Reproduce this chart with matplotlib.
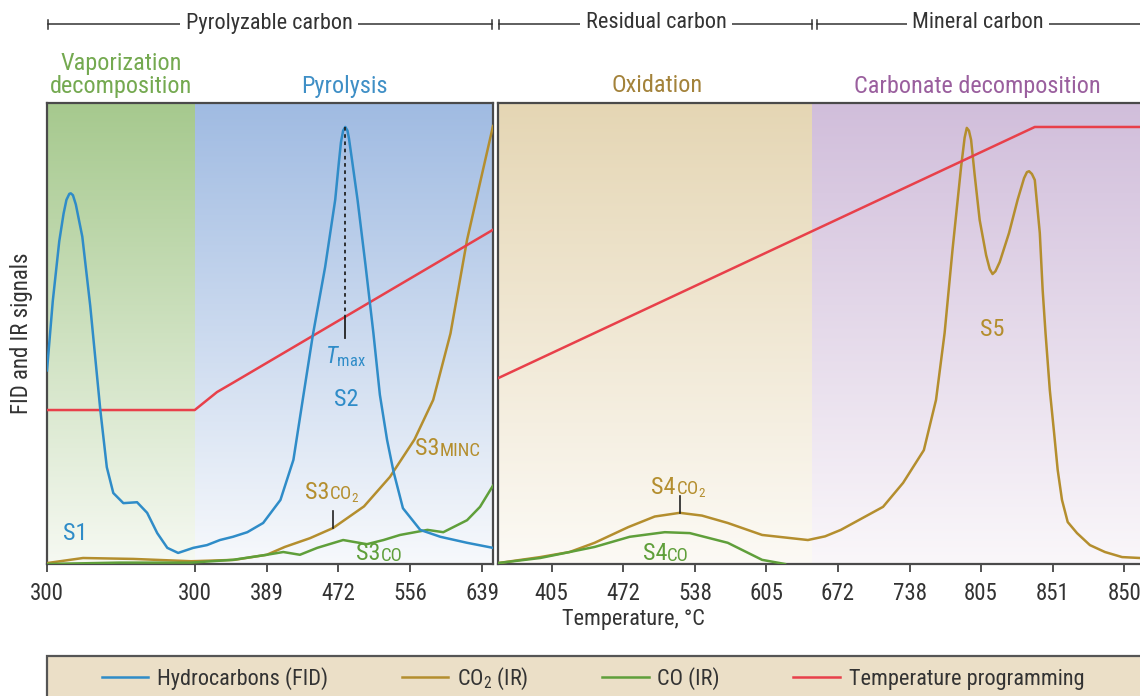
import numpy as np
import matplotlib
matplotlib.use('Agg')
import matplotlib.pyplot as plt
from matplotlib import font_manager
from matplotlib.patches import Rectangle
from matplotlib.lines import Line2D

# Font: look for a narrow / condensed sans
fonts = font_manager.fontManager.ttflist
names = {f.name for f in fonts}
family, stretch = None, 'normal'
for c in ['Liberation Sans Narrow', 'Roboto Condensed', 'Open Sans Condensed',
          'Noto Sans Condensed', 'DejaVu Sans Condensed', 'Arial Narrow']:
    if c in names:
        family = c
        break
if family is None:
    for c in ['Roboto', 'Noto Sans', 'Open Sans', 'DejaVu Sans']:
        if any(f.name == c and f.stretch in ('condensed', 'semi-condensed')
               and f.style == 'normal' for f in fonts):
            family, stretch = c, 'condensed'
            break
if family is None:
    family = 'DejaVu Sans'
plt.rcParams['font.family'] = [family, 'DejaVu Sans']
plt.rcParams['font.stretch'] = stretch
plt.rcParams['mathtext.fontset'] = 'custom'
plt.rcParams['mathtext.rm'] = family
plt.rcParams['mathtext.it'] = family + ':italic'

# Colours
c_fid = '#2f8cc8'
c_co2 = '#b48e2e'
c_co = '#5f9f3a'
c_temp = '#e8404a'
c_dark = '#333333'

# ---- Data (x = run time, y = signal in % of full scale) ----
# left panel: pyrolysis
left_ticks = [0, 2.05, 3.05, 4.04, 5.04, 6.04]
left_ticklabels = ['300', '300', '389', '472', '556', '639']
left_end = 6.19
vapor_end = 2.05

fid_t = [0, 0.08, 0.17, 0.23, 0.27, 0.31, 0.33, 0.36, 0.40, 0.49, 0.60, 0.74, 0.83,
         0.92, 1.06, 1.25, 1.39, 1.53, 1.67, 1.82, 2.03, 2.22, 2.40, 2.58, 2.78,
         3.00, 3.24, 3.42, 3.56, 3.69, 3.86, 4.00, 4.05, 4.08, 4.11, 4.14, 4.17,
         4.19, 4.23, 4.31, 4.42, 4.53, 4.62, 4.72, 4.81, 4.94, 5.18, 5.46, 5.83, 6.19]
fid_y = [42, 57, 70, 76, 79, 80.3, 80.4, 80, 78, 71, 56, 33.4, 21,
         15.4, 13.2, 13.4, 11.1, 6.7, 3.5, 2.4, 3.5, 4.1, 5.2, 5.9, 6.9,
         8.9, 13.9, 22.6, 36.7, 49.7, 64.4, 79, 87, 91.5, 94, 94.8, 94,
         92.4, 88, 79, 64.9, 50.1, 36.7, 26.9, 20, 12.1, 7.4, 5.9, 4.6, 3.5]

co2_left_t = [0, 0.5, 1.2, 2.0, 2.6, 3.05, 3.3, 3.65, 3.97, 4.4, 4.76, 5.1, 5.36,
              5.6, 5.83, 6.0, 6.19]
co2_left_y = [0.2, 1.3, 1.1, 0.6, 0.9, 2.0, 3.7, 5.6, 7.8, 12.5, 18.9, 27, 35.6,
              50, 70.3, 82, 95]

co_left_t = [0, 1.0, 2.0, 2.58, 3.05, 3.28, 3.51, 3.75, 4.11, 4.44, 4.67, 4.9,
             5.28, 5.5, 5.83, 6.01, 6.19]
co_left_y = [0, 0.3, 0.3, 0.9, 2.0, 2.6, 2.0, 3.5, 5.2, 4.3, 5.2, 6.3,
             7.4, 6.9, 9.5, 12.4, 17]

temp_left_t = [0, 2.05, 2.36, 2.58, 6.19]
temp_left_y = [33.4, 33.4, 37.3, 39.3, 72.5]

# right panel: oxidation
right_ticks = [0.75, 1.75, 2.75, 3.75, 4.75, 5.75, 6.75, 7.75, 8.75]
right_ticklabels = ['405', '472', '538', '605', '672', '738', '805', '851', '850']
right_end = 8.97
oxid_end = 4.39

co2_right_t = [0, 0.59, 1.0, 1.35, 1.82, 2.19, 2.54, 2.85, 3.21, 3.69, 4.33, 4.57,
               4.79, 5.38, 5.66, 5.95, 6.12, 6.24, 6.35, 6.47, 6.52, 6.55, 6.58,
               6.61, 6.66, 6.73, 6.82, 6.87, 6.91, 6.95, 7.01, 7.14, 7.26, 7.35,
               7.39, 7.42, 7.46, 7.5, 7.57, 7.61, 7.65, 7.71, 7.77, 7.82, 7.88,
               7.96, 8.09, 8.27, 8.48, 8.72, 8.97]
co2_right_y = [0.2, 1.5, 2.6, 4.6, 8.0, 10.3, 11.1, 10.5, 8.9, 6.3, 5.2, 6.0,
               7.4, 12.4, 17.6, 24.7, 35.6, 50.1, 68.1, 86.1, 92.5, 94.6, 94,
               92, 84.4, 74.6, 67, 64, 62.9, 63.5, 65.5, 71.8, 79, 83.7,
               85, 85.2, 84.6, 83.3, 71.8, 59.4, 50.1, 37.7, 28.4, 20.4, 13.9,
               9.1, 6.7, 4.1, 2.6, 1.5, 1.3]

co_right_t = [0, 0.59, 1.35, 1.84, 2.33, 2.68, 3.21, 3.69, 4.01]
co_right_y = [0.2, 1.3, 3.7, 5.9, 6.9, 6.7, 4.6, 0.9, 0.0]

temp_right_t = [0, 7.5, 8.97]
temp_right_y = [40.3, 94.8, 94.8]

# peak markers
tmax_t, tmax_top, tmax_temp, tmax_bot = 4.14, 94.8, 53.5, 49
s3co2_t, s3co2_y = 3.97, 7.8
s4co2_t, s4co2_y = 2.54, 11.1

fs = 1.0 if (family != 'DejaVu Sans' or stretch == 'condensed') else 0.85

W, H = 1140, 696
fig = plt.figure(figsize=(W / 100, H / 100), dpi=100)
fig.patch.set_facecolor('white')


def gradient(ax, x0, x1, top, bottom):
    top = np.array(matplotlib.colors.to_rgb(top))
    bottom = np.array(matplotlib.colors.to_rgb(bottom))
    f = np.linspace(0, 1, 256)[:, None]
    img = (top * (1 - f) + bottom * f)[:, None, :]
    ax.imshow(img, extent=[x0, x1, 0, 100], aspect='auto', zorder=0,
              interpolation='bilinear')


def style(ax, ticks, labels, xmax, right_open=False):
    ax.set_xlim(0, xmax)
    ax.set_ylim(0, 100)
    ax.set_xticks(ticks)
    ax.set_xticklabels(labels)
    ax.set_yticks([])
    ax.tick_params(axis='x', length=6, width=1.3, color='#444444', pad=7,
                   labelsize=16.5 * fs, labelcolor=c_dark)
    for s in ax.spines.values():
        s.set_color('#4a4a4a')
        s.set_linewidth(1.6)
    if right_open:
        ax.spines['right'].set_visible(False)


def sc_label(ax, x, y, parts, color, shift=0):
    # "S3" + small caps part, placed side by side
    t = ax.annotate(parts[0], (x, y), xytext=(shift, 0), textcoords='offset points',
                    ha='right', va='baseline', fontsize=17.5 * fs, color=color)
    if len(parts) > 1:
        ax.annotate(parts[1], xy=(1, 0), xycoords=t, ha='left', va='bottom',
                    fontsize=13.5 * fs, color=color)


lw = 1.8
ax1 = fig.add_axes([47 / W, 132 / H, 446 / W, 461 / H])
gradient(ax1, 0, vapor_end, '#a6c98e', '#f6f9f2')
gradient(ax1, vapor_end, left_end, '#a0bbe2', '#f7f9fc')
ax1.plot(fid_t, fid_y, color=c_fid, lw=lw, zorder=4, solid_joinstyle='round')
ax1.plot(co2_left_t, co2_left_y, color=c_co2, lw=lw, zorder=3, solid_joinstyle='round')
ax1.plot(co_left_t, co_left_y, color=c_co, lw=lw, zorder=3, solid_joinstyle='round')
ax1.plot(temp_left_t, temp_left_y, color=c_temp, lw=lw, zorder=3)
ax1.plot([tmax_t, tmax_t], [tmax_top, tmax_temp], color='#222222', lw=1.3,
         linestyle=(0, (2, 2)), zorder=5)
ax1.plot([tmax_t, tmax_t], [tmax_temp, tmax_bot], color='#222222', lw=1.3, zorder=5)
ax1.plot([s3co2_t, s3co2_t], [s3co2_y, s3co2_y + 3.8], color='#222222', lw=1.2, zorder=5)
style(ax1, left_ticks, left_ticklabels, left_end)

ax1.text(0.39, 6.7, 'S1', color=c_fid, fontsize=17.5 * fs, ha='center', va='center')
ax1.text(4.15, 35.6, 'S2', color=c_fid, fontsize=17.5 * fs, ha='center', va='center')
ax1.text(4.14, 45, r'$T_\mathregular{max}$', color=c_fid, fontsize=17 * fs,
         ha='center', va='center')
sc_label(ax1, s3co2_t, 14.0, ['S3', r'CO$_\mathregular{2}$'], c_co2, shift=-3)
sc_label(ax1, 5.58, 23.6, ['S3', 'MINC'], c_co2, shift=-7)
sc_label(ax1, 4.69, 0.9, ['S3', 'CO'], c_co, shift=-3)

ax2 = fig.add_axes([498 / W, 132 / H, 642 / W, 461 / H])
gradient(ax2, 0, oxid_end, '#e5d6b4', '#fcfaf5')
gradient(ax2, oxid_end, right_end, '#d1bedb', '#faf7fa')
ax2.plot(co2_right_t, co2_right_y, color=c_co2, lw=lw, zorder=3, solid_joinstyle='round')
ax2.plot(co_right_t, co_right_y, color=c_co, lw=lw, zorder=3, solid_joinstyle='round')
ax2.plot(temp_right_t, temp_right_y, color=c_temp, lw=lw, zorder=3)
ax2.plot([s4co2_t, s4co2_t], [s4co2_y, s4co2_y + 3.6], color='#222222', lw=1.2, zorder=5)
style(ax2, right_ticks, right_ticklabels, right_end, right_open=True)

sc_label(ax2, s4co2_t, 15.2, ['S4', r'CO$_\mathregular{2}$'], c_co2, shift=-3)
sc_label(ax2, 2.42, 0.8, ['S4', 'CO'], c_co, shift=-3)
ax2.text(6.91, 50.8, 'S5', color=c_co2, fontsize=17.5 * fs, ha='center', va='center')

# overlay in pixel coordinates for headers, axis titles and legend box
ov = fig.add_axes([0, 0, 1, 1], zorder=-1)
ov.set_xlim(0, W)
ov.set_ylim(H, 0)
ov.axis('off')

brackets = [(48, 492, 269, 'Pyrolyzable carbon'), (499, 812, 656, 'Residual carbon'),
            (817, 1160, 978, 'Mineral carbon')]
for x0, x1, xc, txt in brackets:
    ov.plot([x0, x1], [24, 24], color=c_dark, lw=1.1)
    for xe in (x0, x1):
        ov.plot([xe, xe], [19.5, 28.5], color=c_dark, lw=1.1)
    ov.text(xc, 23, txt, ha='center', va='center', fontsize=16 * fs, color=c_dark,
            bbox=dict(facecolor='white', edgecolor='none', pad=4))

ov.text(121, 75, 'Vaporization\ndecomposition', ha='center', va='center',
        fontsize=17.5 * fs, color='#74a950', linespacing=1.05)
ov.text(344, 86, 'Pyrolysis', ha='center', va='center', fontsize=17.5 * fs, color='#3f8fc6')
ov.text(657, 86, 'Oxidation', ha='center', va='center', fontsize=17.5 * fs, color='#a3823a')
ov.text(977, 86, 'Carbonate decomposition', ha='center', va='center',
        fontsize=17.5 * fs, color='#9a5f9e')

ov.text(22, 333, 'FID and IR signals', rotation=90, ha='center', va='center',
        fontsize=16.5 * fs, color=c_dark)
ov.text(633, 620, 'Temperature, \u00b0C', ha='center', va='center', fontsize=16 * fs,
        color=c_dark)

ov.add_patch(Rectangle((47, 656), 1120, 60, facecolor='#ebdfc7', edgecolor='#555555',
                       lw=1.6, clip_on=False))

handles = [Line2D([], [], color=c, lw=lw) for c in (c_fid, c_co2, c_co, c_temp)]
labels = ['Hydrocarbons (FID)', r'CO$_\mathregular{2}$ (IR)', 'CO (IR)',
          'Temperature programming']
fig.legend(handles, labels, loc='center', bbox_to_anchor=(593 / W, 1 - 679 / H),
           ncol=4, frameon=False, fontsize=16 * fs, handlelength=2.1,
           columnspacing=3.3 * fs, handletextpad=0.4, labelcolor=c_dark)

fig.savefig('out.png', dpi=100)
